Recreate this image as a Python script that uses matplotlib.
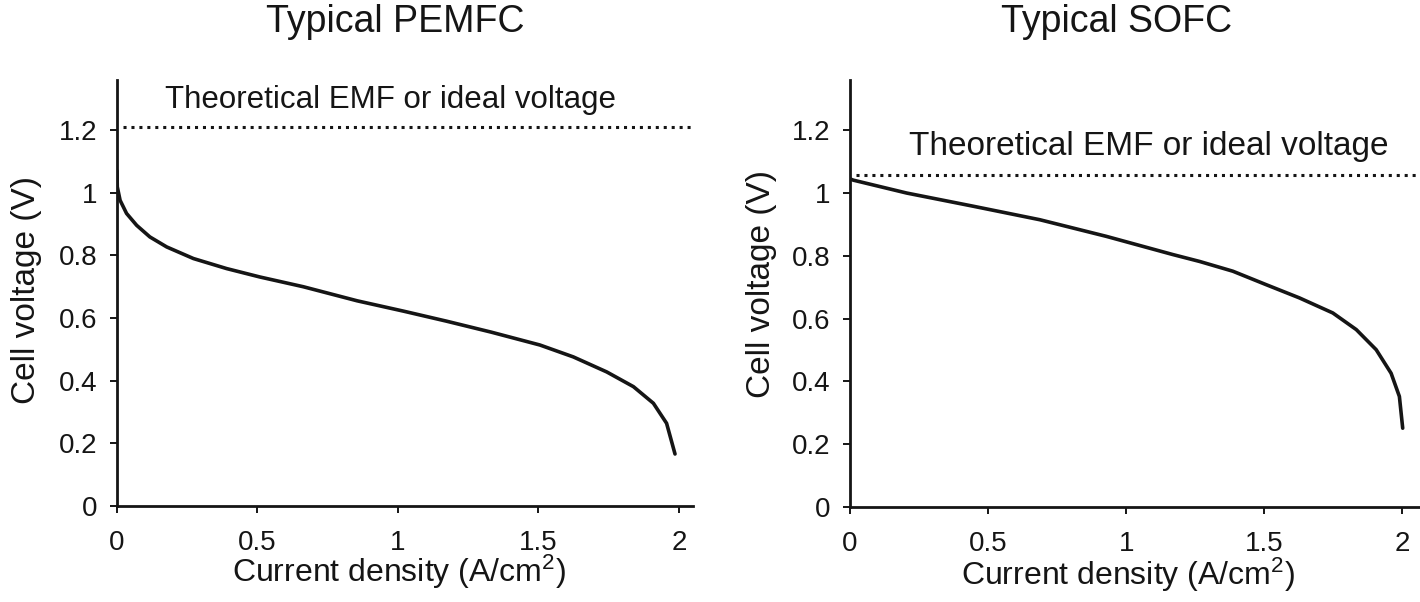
"""Typical polarisation curves of a PEMFC and an SOFC."""

import matplotlib.pyplot as plt

plt.rcParams["font.family"] = ["Liberation Sans", "DejaVu Sans"]
plt.rcParams["mathtext.fontset"] = "custom"
plt.rcParams["mathtext.rm"] = "Liberation Sans"
plt.rcParams["mathtext.it"] = "Liberation Sans"

W, H = 1420, 602

# ---------------------------------------------------------------------------
# Data (current density A/cm2, cell voltage V)
# ---------------------------------------------------------------------------
pem_j = [0.0, 0.001, 0.011, 0.034, 0.07, 0.117, 0.177, 0.272, 0.39, 0.509,
         0.663, 0.855, 1.02, 1.173, 1.332, 1.505, 1.624, 1.743, 1.838, 1.909,
         1.956, 1.986]
pem_v = [1.07, 1.019, 0.976, 0.934, 0.896, 0.859, 0.827, 0.790, 0.758, 0.731,
         0.700, 0.655, 0.622, 0.590, 0.555, 0.514, 0.476, 0.428, 0.381, 0.328,
         0.264, 0.166]
pem_emf = 1.21

sofc_j = [0.0, 0.012, 0.205, 0.446, 0.687, 0.928, 1.169, 1.266, 1.386, 1.507,
          1.627, 1.748, 1.833, 1.905, 1.959, 1.989, 2.001]
sofc_v = [1.045, 1.041, 1.0, 0.958, 0.915, 0.862, 0.804, 0.782, 0.751, 0.708,
          0.666, 0.618, 0.565, 0.501, 0.426, 0.352, 0.251]
sofc_emf = 1.059

x_ticks = [0, 0.5, 1, 1.5, 2]
x_tick_labels = ["0", "0.5", "1", "1.5", "2"]
y_ticks = [0, 0.2, 0.4, 0.6, 0.8, 1.0, 1.2]
y_tick_labels = ["0", "0.2", "0.4", "0.6", "0.8", "1", "1.2"]

titles = ["Typical PEMFC", "Typical SOFC"]
emf_label = "Theoretical EMF or ideal voltage"
x_label = "Current density (A/cm$^{2}$)"
y_label = "Cell voltage (V)"

INK = "#151515"


def px_box(left, top, right, bottom):
    """Pixel box -> figure fraction [l, b, w, h]."""
    return [left / W, 1 - bottom / H, (right - left) / W, (bottom - top) / H]


fig = plt.figure(figsize=(W / 100, H / 100), dpi=100)

ax1 = fig.add_axes(px_box(117, 80, 693, 506))
ax2 = fig.add_axes(px_box(850, 80, 1419, 507))

panels = [
    (ax1, pem_j, pem_v, pem_emf, 2.05),
    (ax2, sofc_j, sofc_v, sofc_emf, 2.06),
]

for ax, j, v, emf, xmax in panels:
    ax.plot(j, v, color=INK, lw=2.6, solid_capstyle="round",
            solid_joinstyle="round")
    ax.axhline(emf, xmin=0.01, color=INK, lw=2.2, ls=(0, (1, 1.6)))
    ax.set_xlim(0, xmax)
    ax.set_ylim(0, 1.36)
    ax.set_xticks(x_ticks, x_tick_labels)
    ax.set_yticks(y_ticks, y_tick_labels)
    for side in ("top", "right"):
        ax.spines[side].set_visible(False)
    for side in ("left", "bottom"):
        ax.spines[side].set_linewidth(2.0)
        ax.spines[side].set_color(INK)
    ax.tick_params(axis="both", direction="out", length=5, width=1.4,
                   color=INK, labelsize=20, labelcolor=INK)
    ax.tick_params(axis="y", pad=9)
    ax.tick_params(axis="x", pad=12)

# titles, annotations and axis labels placed in pixel coords
fig.text(395 / W, 1 - 22 / H, titles[0], fontsize=27, ha="center", va="center", color=INK)
fig.text(1117 / W, 1 - 22 / H, titles[1], fontsize=27, ha="center", va="center", color=INK)
fig.text(390 / W, 1 - 100 / H, emf_label, fontsize=22.5, ha="center", va="center", color=INK)
fig.text(1149 / W, 1 - 147 / H, emf_label, fontsize=24, ha="center", va="center", color=INK)
fig.text(399 / W, 1 - 572 / H, x_label, fontsize=23, ha="center", va="center", color=INK)
fig.text(1128 / W, 1 - 575 / H, x_label, fontsize=23, ha="center", va="center", color=INK)
fig.text(27 / W, 1 - 290 / H, y_label, fontsize=24, rotation=90, ha="center", va="center", color=INK)
fig.text(762 / W, 1 - 284 / H, y_label, fontsize=24, rotation=90, ha="center", va="center", color=INK)

fig.savefig("out.png", dpi=100)
